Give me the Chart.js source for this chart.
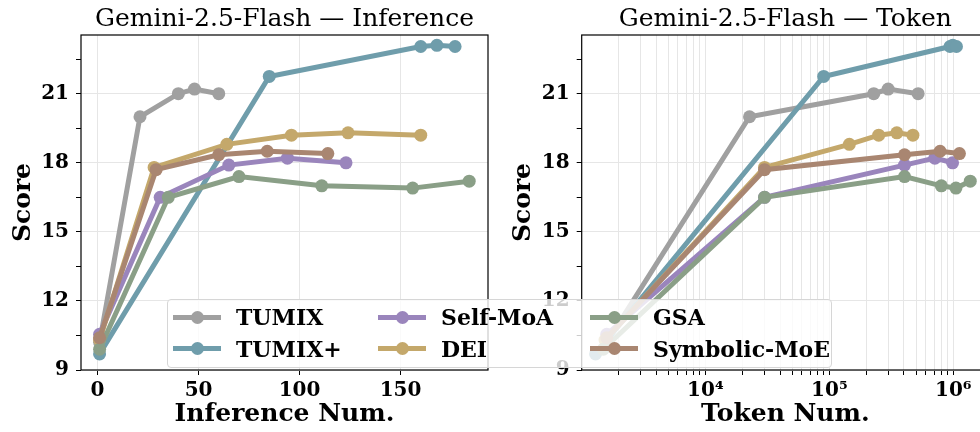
<!DOCTYPE html>
<html>
<head>
<meta charset="utf-8">
<script src="https://cdn.jsdelivr.net/npm/chart.js@4.4.1/dist/chart.umd.min.js"></script>
<style>
  body { margin: 0; width: 980px; height: 432px; overflow: hidden; background: #fff; position: relative; font-family: "DejaVu Serif", serif; }
  #c1 { position: absolute; left: 0; top: 0; }
  #c2 { position: absolute; left: 490px; top: 0; }
  #legend { position: absolute; left: 167px; top: 299px; width: 663px; height: 67px; background: rgba(255,255,255,0.8); border: 1px solid #d6d6d6; border-radius: 4px; }
  .item { position: absolute; height: 20px; }
  .line { position: absolute; left: 0; top: 7.5px; width: 48px; height: 5px; }
  .dot { position: absolute; left: 17.5px; top: 3.5px; width: 13px; height: 13px; border-radius: 50%; }
  .lbl { position: absolute; left: 63px; top: -4px; font-weight: bold; font-size: 22px; line-height: 28px; white-space: nowrap; color: #000; }
</style>
</head>
<body>
<canvas id="c1" width="490" height="432"></canvas>
<canvas id="c2" width="500" height="432"></canvas>
<div id="legend"></div>
<script>
// series names and colours (legend order)
const names = ["TUMIX", "TUMIX+", "Self-MoA", "DEI", "GSA", "Symbolic-MoE"];
const colors = ["#a0a0a0", "#6f9dab", "#9a85bc", "#c4a86b", "#8a9f87", "#a98671"];

// scores (shared by both panels)
const tumixScore = [10.2, 20.0, 21.0, 21.2, 21.0];
const tumixPlusScore = [9.7, 21.75, 23.05, 23.1, 23.05];
const selfMoaScore = [10.55, 16.5, 17.9, 18.2, 18.0];
const deiScore = [10.3, 17.8, 18.8, 19.2, 19.3, 19.2];
const gsaScore = [9.9, 16.5, 17.4, 17.0, 16.9, 17.2];
const symMoeScore = [10.4, 17.7, 18.35, 18.5, 18.4];

// inference counts (left panel)
const tumixInf = [1, 21, 40, 48, 60];
const tumixPlusInf = [1, 85, 160, 168, 177];
const selfMoaInf = [1, 31, 65, 94, 123];
const deiInf = [1, 28, 64, 96, 124, 160];
const gsaInf = [1, 35, 70, 111, 156, 184];
const symMoeInf = [1, 29, 60, 84, 114];

// token counts (right panel)
const tumixTok = [1600, 22700, 228000, 298000, 520000];
const tumixPlusTok = [1300, 90000, 940000, 990000, 1060000];
const selfMoaTok = [1600, 30000, 404000, 710000, 986000];
const deiTok = [1550, 30000, 145000, 250000, 350000, 472000];
const gsaTok = [1500, 30000, 404000, 800000, 1050000, 1370000];
const symMoeTok = [1600, 30000, 404000, 782000, 1120000];

const scores = [tumixScore, tumixPlusScore, selfMoaScore, deiScore, gsaScore, symMoeScore];
const infX = [tumixInf, tumixPlusInf, selfMoaInf, deiInf, gsaInf, symMoeInf];
const tokX = [tumixTok, tumixPlusTok, selfMoaTok, deiTok, gsaTok, symMoeTok];

// axis ticks
const scoreTicks = [9, 10.5, 12, 13.5, 15, 16.5, 18, 19.5, 21, 22.5];
const infTicks = [0, 50, 100, 150];
const tokMajor = [10000, 100000, 1000000];
const tokLabels = { 10000: "10⁴", 100000: "10⁵", 1000000: "10⁶" };

const FONT = "DejaVu Serif";
const tickFont = { family: FONT, weight: "bold", size: 20 };
const axisTitleFont = { family: FONT, weight: "bold", size: 25 };
const gridColor = "#e6e6e6";

function makeDatasets(xs) {
  return names.map((n, i) => ({
    label: n,
    data: xs[i].map((v, j) => ({ x: v, y: scores[i][j] })),
    borderColor: colors[i],
    backgroundColor: colors[i],
    borderWidth: 5,
    pointRadius: 6.5,
    pointHoverRadius: 6.5,
    pointBorderWidth: 0,
    tension: 0,
    order: names.length - i,
  }));
}

// black box round the plot area
const frame = {
  id: "frame",
  afterDraw(chart) {
    const { ctx, chartArea: a } = chart;
    ctx.save();
    ctx.strokeStyle = "#000";
    ctx.lineWidth = 1.2;
    ctx.strokeRect(a.left, a.top, a.right - a.left, a.bottom - a.top);
    ctx.restore();
  },
};

// fixed axis heights, no extra padding for overhanging labels
function fixX(s) {
  s.height = 62;
  s.paddingLeft = 0;
  s.paddingRight = 0;
}

function yScale(width) {
  return {
    min: 9,
    max: 23.55,
    afterBuildTicks: (s) => { s.ticks = scoreTicks.map((v) => ({ value: v })); },
    afterFit: (s) => { s.width = width; s.paddingTop = 0; s.paddingBottom = 0; },
    border: { display: false },
    grid: {
      color: (c) => (c.tick && Math.abs(c.tick.value % 3) < 1e-6 ? gridColor : "rgba(0,0,0,0)"),
      tickColor: "#000",
      tickLength: 5,
    },
    ticks: {
      autoSkip: false,
      color: "#000",
      font: tickFont,
      padding: 7,
      callback: (v) => (Math.abs(v % 3) < 1e-6 ? String(v) : ""),
    },
    title: { display: true, text: "Score", color: "#000", font: axisTitleFont, padding: { top: 4, bottom: 0 } },
  };
}

function baseOptions(title, padLeft, padRight) {
  return {
    responsive: false,
    animation: false,
    layout: { autoPadding: false, padding: { left: padLeft, right: padRight, top: 0, bottom: 0 } },
    plugins: {
      legend: { display: false },
      tooltip: { enabled: false },
      title: {
        display: true,
        text: title,
        fullSize: false,
        color: "#000",
        font: { family: FONT, size: 25, weight: "normal" },
        padding: { top: 4, bottom: 1 },
      },
    },
  };
}

// ========== Left: Inference ==========
const opts1 = baseOptions("Gemini-2.5-Flash — Inference", 4.5, 2);
opts1.scales = {
  x: {
    type: "linear",
    min: -8.2,
    max: 193.3,
    afterBuildTicks: (s) => { s.ticks = infTicks.map((v) => ({ value: v })); },
    afterFit: fixX,
    border: { display: false },
    grid: { color: gridColor, tickColor: "#000", tickLength: 5 },
    ticks: { color: "#000", font: tickFont, padding: 4, maxRotation: 0 },
    title: { display: true, text: "Inference Num.", color: "#000", font: axisTitleFont, padding: { top: 0, bottom: 3 } },
  },
  y: yScale(76.5),
};
new Chart(document.getElementById("c1"), {
  type: "line",
  data: { datasets: makeDatasets(infX) },
  options: opts1,
  plugins: [frame],
});

// ========== Right: Token ==========
const opts2 = baseOptions("Gemini-2.5-Flash — Token", 14.5, 1);
opts2.scales = {
  x: {
    type: "logarithmic",
    min: 1005,
    max: 1.94e6,
    afterBuildTicks: (s) => {
      const t = [];
      for (let d = 1000; d <= 1e6; d *= 10) {
        for (let m = 1; m <= 9; m++) {
          const v = m * d;
          if (v >= s.min && v <= s.max) t.push({ value: v, major: tokMajor.includes(v) });
        }
      }
      s.ticks = t;
    },
    afterFit: fixX,
    border: { display: false },
    grid: { color: gridColor, tickColor: "#000", tickLength: 5 },
    ticks: {
      autoSkip: false,
      color: "#000",
      font: tickFont,
      padding: 4,
      maxRotation: 0,
      callback: (v) => tokLabels[v] || "",
    },
    title: { display: true, text: "Token Num.", color: "#000", font: axisTitleFont, padding: { top: 0, bottom: 3 } },
  },
  y: yScale(77.2),
};
new Chart(document.getElementById("c2"), {
  type: "line",
  data: { datasets: makeDatasets(tokX) },
  options: opts2,
  plugins: [frame],
});

// ========== Legend (spans both panels) ==========
const legend = document.getElementById("legend");
const colLeft = [5, 210, 422];
const rowTop = [7, 38.5];
names.forEach((n, i) => {
  const col = Math.floor(i / 2), row = i % 2;
  const it = document.createElement("div");
  it.className = "item";
  it.style.left = colLeft[col] + "px";
  it.style.top = rowTop[row] + "px";
  it.innerHTML = `<div class="line" style="background:${colors[i]}"></div>` +
    `<div class="dot" style="background:${colors[i]}"></div>` +
    `<div class="lbl">${n}</div>`;
  legend.appendChild(it);
});
</script>
</body>
</html>
